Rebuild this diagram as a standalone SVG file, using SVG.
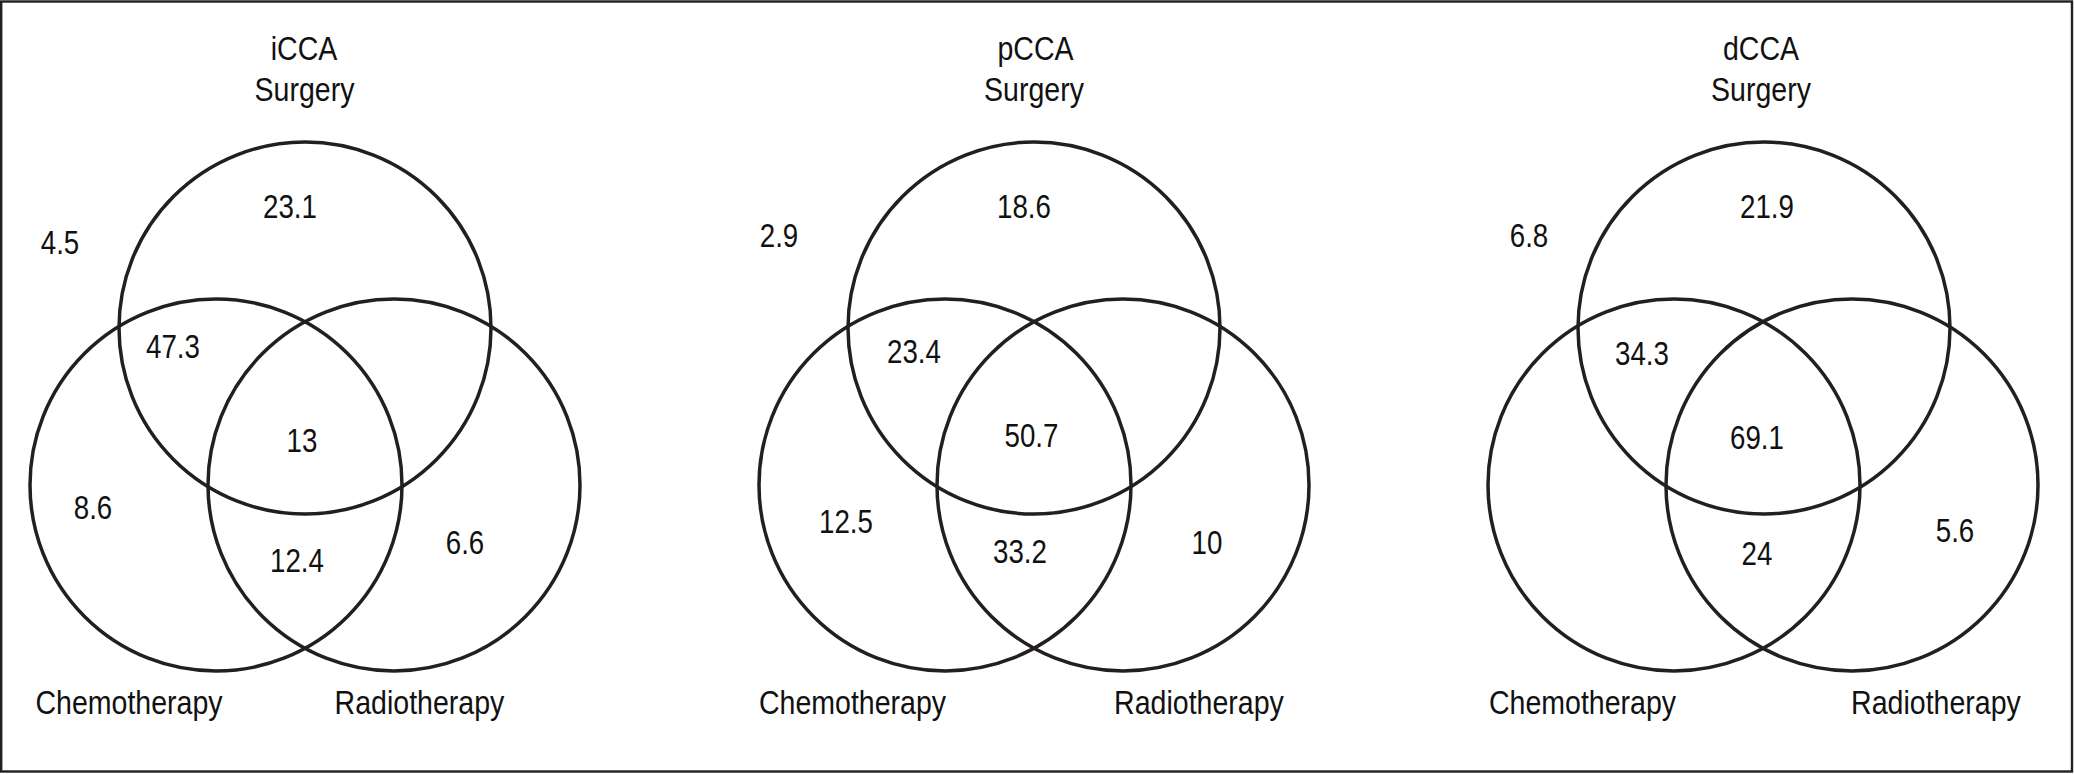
<svg xmlns="http://www.w3.org/2000/svg" width="2074" height="774" viewBox="0 0 2074 774">
<style>
.c{fill:none;stroke:#231f20;stroke-width:3.5}
.t{font-family:"Liberation Sans",Arial,sans-serif;fill:#111;text-anchor:middle}
.lab{font-size:34px}
.num{font-size:33px}
</style>
<rect x="1.2" y="1.5" width="2070.8" height="770" fill="#fff" stroke="#231f20" stroke-width="2.4"/>
<g id="panel-iCCA">
  <g id="iCCA-surgery"><circle class="c" cx="305" cy="328" r="186"/></g>
  <g id="iCCA-chemo"><circle class="c" cx="216" cy="485" r="186"/></g>
  <g id="iCCA-radio"><circle class="c" cx="394" cy="485" r="186"/></g>
  <g id="iCCA-labels" class="t">
    <text class="lab" transform="translate(304 60) scale(0.84 1)">iCCA</text>
    <text class="lab" transform="translate(304.5 101) scale(0.84 1)">Surgery</text>
    <text class="lab" transform="translate(129 714) scale(0.84 1)">Chemotherapy</text>
    <text class="lab" transform="translate(419.5 714) scale(0.84 1)">Radiotherapy</text>
    <text class="num" transform="translate(290 218) scale(0.84 1)">23.1</text>
    <text class="num" transform="translate(60 254) scale(0.84 1)">4.5</text>
    <text class="num" transform="translate(173 358) scale(0.84 1)">47.3</text>
    <text class="num" transform="translate(302 452) scale(0.84 1)">13</text>
    <text class="num" transform="translate(93 519) scale(0.84 1)">8.6</text>
    <text class="num" transform="translate(297 572) scale(0.84 1)">12.4</text>
    <text class="num" transform="translate(465 554) scale(0.84 1)">6.6</text>
  </g>
</g>
<g id="panel-pCCA">
  <g id="pCCA-surgery"><circle class="c" cx="1034" cy="328" r="186"/></g>
  <g id="pCCA-chemo"><circle class="c" cx="945" cy="485" r="186"/></g>
  <g id="pCCA-radio"><circle class="c" cx="1123" cy="485" r="186"/></g>
  <g id="pCCA-labels" class="t">
    <text class="lab" transform="translate(1035.5 60) scale(0.84 1)">pCCA</text>
    <text class="lab" transform="translate(1034 101) scale(0.84 1)">Surgery</text>
    <text class="lab" transform="translate(852.5 714) scale(0.84 1)">Chemotherapy</text>
    <text class="lab" transform="translate(1199 714) scale(0.84 1)">Radiotherapy</text>
    <text class="num" transform="translate(1024 218) scale(0.84 1)">18.6</text>
    <text class="num" transform="translate(779 247) scale(0.84 1)">2.9</text>
    <text class="num" transform="translate(914 363) scale(0.84 1)">23.4</text>
    <text class="num" transform="translate(1031.5 447) scale(0.84 1)">50.7</text>
    <text class="num" transform="translate(846 533) scale(0.84 1)">12.5</text>
    <text class="num" transform="translate(1020 563) scale(0.84 1)">33.2</text>
    <text class="num" transform="translate(1207 554) scale(0.84 1)">10</text>
  </g>
</g>
<g id="panel-dCCA">
  <g id="dCCA-surgery"><circle class="c" cx="1764" cy="328" r="186"/></g>
  <g id="dCCA-chemo"><circle class="c" cx="1674" cy="485" r="186"/></g>
  <g id="dCCA-radio"><circle class="c" cx="1852" cy="485" r="186"/></g>
  <g id="dCCA-labels" class="t">
    <text class="lab" transform="translate(1761 60) scale(0.84 1)">dCCA</text>
    <text class="lab" transform="translate(1761 101) scale(0.84 1)">Surgery</text>
    <text class="lab" transform="translate(1582.5 714) scale(0.84 1)">Chemotherapy</text>
    <text class="lab" transform="translate(1936 714) scale(0.84 1)">Radiotherapy</text>
    <text class="num" transform="translate(1767 218) scale(0.84 1)">21.9</text>
    <text class="num" transform="translate(1529 247) scale(0.84 1)">6.8</text>
    <text class="num" transform="translate(1642 365) scale(0.84 1)">34.3</text>
    <text class="num" transform="translate(1757 449) scale(0.84 1)">69.1</text>
    <text class="num" transform="translate(1757 565) scale(0.84 1)">24</text>
    <text class="num" transform="translate(1955 542) scale(0.84 1)">5.6</text>
  </g>
</g>
<g id="connectors"></g>
</svg>
